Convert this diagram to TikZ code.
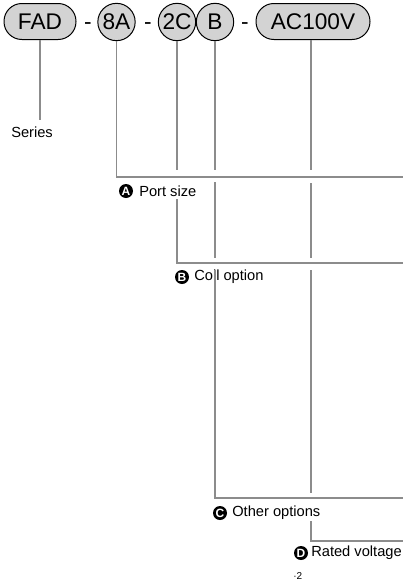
\documentclass[tikz,border=0pt]{standalone}
\usepackage{fontspec}
\setmainfont{Liberation Sans}
\definecolor{pillgray}{RGB}{211,211,211}
\definecolor{linegray}{RGB}{140,140,140}
\tikzset{
  pill/.style={draw=black, line width=0.75pt, fill=pillgray, rounded corners=13.4pt, minimum height=27pt, inner sep=0pt, font=\fontsize{17}{17}\selectfont},
  circ/.style={draw=black, line width=0.75pt, fill=pillgray, circle, minimum size=28pt, inner sep=0pt, font=\fontsize{17}{17}\selectfont},
  dashtxt/.style={inner sep=0pt, font=\fontsize{17}{17}\selectfont},
  conn/.style={draw=linegray, line width=0.8pt},
  lbl/.style={anchor=west, inner sep=0pt, font=\fontsize{11}{11}\selectfont},
  badge/.style={circle, fill=black, text=white, minimum size=10.5pt, inner sep=0pt, font=\fontsize{9}{9}\selectfont\bfseries}
}
\begin{document}
\begin{tikzpicture}[x=0.75pt,y=-0.75pt]
\useasboundingbox (0,0) rectangle (403,582);
% top row
\node[pill, minimum width=54pt] (fad) at (40,21.5) {FAD};
\node[dashtxt] (d1) at (88,26) {-};
\node[circ] (p8a) at (116.5,22) {8A};
\node[dashtxt] (d2) at (148,26) {-};
\node[circ] (p2c) at (177,22) {2C};
\node[circ] (pb) at (215,22) {B};
\node[dashtxt] (d3) at (245,26) {-};
\node[pill, minimum width=85.5pt] (pac) at (313,21.5) {AC100V};
% labels
\node[lbl] (series) at (11,132) {Series};
\node[badge] (ba) at (126,191) {A};
\node[lbl] (lport) at (139,191) {Port size};
\node[badge] (bb) at (182,277) {B};
\node[lbl] (lcoil) at (194,277) {Coil option};
\node[badge] (bc) at (220,513) {C};
\node[lbl] (lother) at (232,513) {Other options};
\node[badge] (bd) at (301,553) {D};
\node[lbl] (lrated) at (311,553) {Rated voltage};
\node[anchor=west, inner sep=0pt, font=\fontsize{7.5}{7.5}\selectfont] (note) at (293,576) {·2};
% coordinates
\coordinate (s1) at (40,120);
\coordinate (eA) at (403,177);
\coordinate (c1) at (177,170);
\coordinate (c2) at (177,199);
\coordinate (eB) at (403,263);
\coordinate (b1) at (215,170);
\coordinate (b2) at (215,182);
\coordinate (b3) at (215,258);
\coordinate (b4) at (215,270);
\coordinate (eC) at (403,498);
\coordinate (v1) at (311,170);
\coordinate (v2) at (311,183);
\coordinate (v3) at (311,258);
\coordinate (v4) at (311,270);
\coordinate (v5) at (311,493);
\coordinate (v6) at (311,521);
\coordinate (eD) at (403,541);
% connectors
\draw[conn] (fad.south) -- (s1);
\draw[conn] (p8a.south) |- (eA);
\draw[conn] (p2c.south) -- (c1);
\draw[conn] (c2) |- (eB);
\draw[conn] (pb.south) -- (b1);
\draw[conn] (b2) -- (b3);
\draw[conn] (b4) |- (eC);
\draw[conn] (pac.south -| v1) -- (v1);
\draw[conn] (v2) -- (v3);
\draw[conn] (v4) -- (v5);
\draw[conn] (v6) |- (eD);
\end{tikzpicture}
\end{document}
